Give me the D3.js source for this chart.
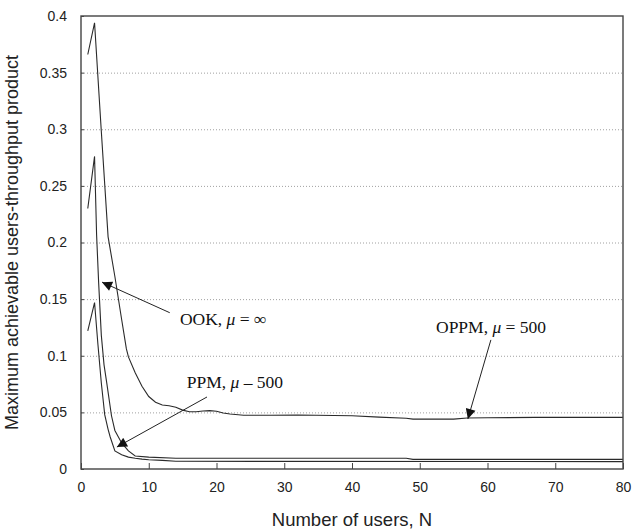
<!DOCTYPE html>
<html>
<head>
<meta charset="utf-8">
<script src="https://cdn.jsdelivr.net/npm/d3@7"></script>
<style>
  html, body { margin: 0; padding: 0; background: #fff; }
  svg { display: block; }
</style>
</head>
<body>
<svg id="chart" width="633" height="529"></svg>
<script>
// number of users N and max users-throughput product
const nOPPM = [1, 2, 3, 4, 5, 6, 6.7, 7, 8, 9, 10, 11, 12, 13, 14, 15, 16, 17, 18, 19, 20, 21, 22, 24, 28, 32, 40, 44, 48, 49, 55, 57, 60, 67, 80];
const vOPPM = [0.366, 0.394, 0.298, 0.205, 0.170, 0.132, 0.106, 0.099, 0.085, 0.073, 0.064, 0.059, 0.0565, 0.0558, 0.0545, 0.052, 0.0505, 0.0505, 0.0512, 0.0515, 0.051, 0.0495, 0.0485, 0.0475, 0.0475, 0.0477, 0.047, 0.0458, 0.0448, 0.044, 0.044, 0.045, 0.0452, 0.0456, 0.0456];

const nOOK = [1, 2, 2.3, 2.6, 3, 3.4, 3.8, 4.5, 5, 6, 7, 8, 10, 14, 48, 49, 80];
const vOOK = [0.230, 0.276, 0.207, 0.165, 0.118, 0.092, 0.076, 0.047, 0.034, 0.023, 0.016, 0.0115, 0.0105, 0.0095, 0.0095, 0.0085, 0.0085];

const nPPM = [1, 2, 2.5, 3, 3.5, 4, 4.3, 5, 6, 7, 8, 9, 10, 12, 14, 80];
const vPPM = [0.122, 0.147, 0.110, 0.076, 0.048, 0.035, 0.0285, 0.016, 0.0125, 0.0105, 0.0095, 0.0087, 0.0082, 0.0076, 0.0068, 0.0065];

const xTicks = [0, 10, 20, 30, 40, 50, 60, 70, 80];
const yTicks = [0, 0.05, 0.1, 0.15, 0.2, 0.25, 0.3, 0.35, 0.4];
const yTickLabels = ["0", "0.05", "0.1", "0.15", "0.2", "0.25", "0.3", "0.35", "0.4"];

// annotation anchors in data units: [label N, label value, arrow from N, from value, arrow to N, to value]
const annoNames = ["OOK", "PPM", "OPPM"];
const annoMu = ["= \u221E", "\u2013 500", "= 500"];
const annoAt = [
  [14.6, 0.127, 13.1, 0.138, 3.1, 0.165],
  [15.6, 0.0715, 18.6, 0.0636, 5.3, 0.0194],
  [52.4, 0.12, 60.5, 0.114, 57.1, 0.0442]
];

const W = 633, H = 529;
const m = { top: 16, right: 10, bottom: 60, left: 81 };
const w = W - m.left - m.right;
const h = H - m.top - m.bottom;

const svg = d3.select("#chart");
const g = svg.append("g").attr("transform", `translate(${m.left},${m.top})`);

const x = d3.scaleLinear().domain([0, 80]).range([0, w]);
const y = d3.scaleLinear().domain([0, 0.4]).range([h, 0]);

// dotted horizontal grid
g.append("g")
  .call(d3.axisLeft(y).tickValues(yTicks.filter(t => t > 0 && t < 0.4)).tickSize(-w).tickFormat(""))
  .call(g => g.select(".domain").remove())
  .call(g => g.selectAll("line").attr("stroke", "#a0a0a0").attr("stroke-width", 1).attr("stroke-dasharray", "1,2"));

// curves
const line = d3.line().x(d => x(d[0])).y(d => y(d[1]));
[[nOPPM, vOPPM], [nOOK, vOOK], [nPPM, vPPM]].forEach(([ns, vs]) => {
  g.append("path")
    .datum(ns.map((n, i) => [n, vs[i]]))
    .attr("fill", "none")
    .attr("stroke", "#2a2a2a")
    .attr("stroke-width", 1.1)
    .attr("d", line);
});

// frame
g.append("rect")
  .attr("x", 0).attr("y", 0).attr("width", w).attr("height", h)
  .attr("fill", "none").attr("stroke", "#444").attr("stroke-width", 1.4);

// axes (inward ticks)
g.append("g").attr("transform", `translate(0,${h})`)
  .call(d3.axisBottom(x).tickValues(xTicks).tickSizeInner(-6).tickSizeOuter(0).tickPadding(13))
  .call(g => g.select(".domain").remove())
  .call(g => g.selectAll("line").attr("stroke", "#444"))
  .call(g => g.selectAll("text").attr("fill", "#222").attr("font-size", 14).attr("font-family", "Liberation Sans, Arial, sans-serif"));

g.append("g")
  .call(d3.axisLeft(y).tickValues(yTicks).tickSizeInner(-3).tickSizeOuter(0).tickPadding(14)
    .tickFormat((d, i) => yTickLabels[i]))
  .call(g => g.select(".domain").remove())
  .call(g => g.selectAll("line").attr("stroke", "#444"))
  .call(g => g.selectAll("text").attr("fill", "#222").attr("font-size", 14).attr("font-family", "Liberation Sans, Arial, sans-serif"));

// axis titles
svg.append("text")
  .attr("x", m.left + w / 2).attr("y", 526)
  .attr("text-anchor", "middle")
  .attr("font-family", "Liberation Sans, Arial, sans-serif").attr("font-size", 18.5).attr("fill", "#222")
  .text("Number of users, N");
svg.append("text")
  .attr("transform", `translate(18,${m.top + h / 2}) rotate(-90)`)
  .attr("text-anchor", "middle")
  .attr("font-family", "Liberation Sans, Arial, sans-serif").attr("font-size", 18).attr("fill", "#222")
  .text("Maximum achievable users-throughput product");

// arrowhead
svg.append("defs").append("marker")
  .attr("id", "head").attr("viewBox", "0 0 10 10")
  .attr("refX", 10).attr("refY", 5)
  .attr("markerWidth", 12).attr("markerHeight", 10)
  .attr("markerUnits", "userSpaceOnUse")
  .attr("orient", "auto")
  .append("path").attr("d", "M0,0L10,5L0,10z").attr("fill", "#111");

// annotations
annoNames.forEach((name, i) => {
  const a = annoAt[i];
  g.append("line")
    .attr("x1", x(a[2])).attr("y1", y(a[3]))
    .attr("x2", x(a[4])).attr("y2", y(a[5]))
    .attr("stroke", "#222").attr("stroke-width", 1)
    .attr("marker-end", "url(#head)");
  const t = g.append("text")
    .attr("x", x(a[0])).attr("y", y(a[1]))
    .attr("font-family", "Liberation Serif, Times New Roman, serif")
    .attr("font-size", 17.5).attr("fill", "#111");
  t.append("tspan").text(name + ", ");
  t.append("tspan").attr("font-style", "italic").text("\u03BC");
  t.append("tspan").text(" " + annoMu[i]);
});
</script>
</body>
</html>
